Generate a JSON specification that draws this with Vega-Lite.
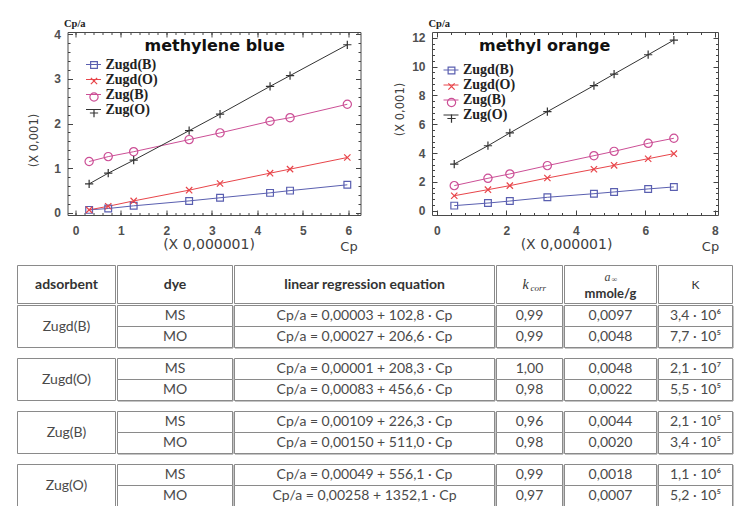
{
  "$schema": "https://vega.github.io/schema/vega-lite/v6.json",
  "padding": {"left": 16.5, "top": 17, "right": 4, "bottom": 2},
  "background": "white",
  "spacing": 10.5,
  "datasets": {
    "mb": [
      {"s": "Zugd(B)", "cp": 0.3, "v": 0.07}, {"s": "Zugd(B)", "cp": 0.72, "v": 0.10}, {"s": "Zugd(B)", "cp": 1.28, "v": 0.16}, {"s": "Zugd(B)", "cp": 2.5, "v": 0.27},
      {"s": "Zugd(B)", "cp": 3.18, "v": 0.34}, {"s": "Zugd(B)", "cp": 4.28, "v": 0.45}, {"s": "Zugd(B)", "cp": 4.72, "v": 0.50}, {"s": "Zugd(B)", "cp": 5.98, "v": 0.63},
      {"s": "Zugd(O)", "cp": 0.3, "v": 0.07}, {"s": "Zugd(O)", "cp": 0.72, "v": 0.15}, {"s": "Zugd(O)", "cp": 1.28, "v": 0.27}, {"s": "Zugd(O)", "cp": 2.5, "v": 0.51},
      {"s": "Zugd(O)", "cp": 3.18, "v": 0.66}, {"s": "Zugd(O)", "cp": 4.28, "v": 0.89}, {"s": "Zugd(O)", "cp": 4.72, "v": 0.98}, {"s": "Zugd(O)", "cp": 5.98, "v": 1.24},
      {"s": "Zug(B)", "cp": 0.3, "v": 1.15}, {"s": "Zug(B)", "cp": 0.72, "v": 1.26}, {"s": "Zug(B)", "cp": 1.28, "v": 1.37}, {"s": "Zug(B)", "cp": 2.5, "v": 1.64},
      {"s": "Zug(B)", "cp": 3.18, "v": 1.79}, {"s": "Zug(B)", "cp": 4.28, "v": 2.05}, {"s": "Zug(B)", "cp": 4.72, "v": 2.13}, {"s": "Zug(B)", "cp": 5.98, "v": 2.43},
      {"s": "Zug(O)", "cp": 0.3, "v": 0.65}, {"s": "Zug(O)", "cp": 0.72, "v": 0.89}, {"s": "Zug(O)", "cp": 1.28, "v": 1.18}, {"s": "Zug(O)", "cp": 2.5, "v": 1.84},
      {"s": "Zug(O)", "cp": 3.18, "v": 2.21}, {"s": "Zug(O)", "cp": 4.28, "v": 2.83}, {"s": "Zug(O)", "cp": 4.72, "v": 3.07}, {"s": "Zug(O)", "cp": 5.98, "v": 3.76}
    ],
    "mo": [
      {"s": "Zugd(B)", "cp": 0.5, "v": 0.35}, {"s": "Zugd(B)", "cp": 1.47, "v": 0.53}, {"s": "Zugd(B)", "cp": 2.1, "v": 0.67}, {"s": "Zugd(B)", "cp": 3.18, "v": 0.93},
      {"s": "Zugd(B)", "cp": 4.52, "v": 1.18}, {"s": "Zugd(B)", "cp": 5.1, "v": 1.30}, {"s": "Zugd(B)", "cp": 6.08, "v": 1.51}, {"s": "Zugd(B)", "cp": 6.82, "v": 1.65},
      {"s": "Zugd(O)", "cp": 0.5, "v": 1.04}, {"s": "Zugd(O)", "cp": 1.47, "v": 1.46}, {"s": "Zugd(O)", "cp": 2.1, "v": 1.74}, {"s": "Zugd(O)", "cp": 3.18, "v": 2.27},
      {"s": "Zugd(O)", "cp": 4.52, "v": 2.88}, {"s": "Zugd(O)", "cp": 5.1, "v": 3.15}, {"s": "Zugd(O)", "cp": 6.08, "v": 3.61}, {"s": "Zugd(O)", "cp": 6.82, "v": 3.96},
      {"s": "Zug(B)", "cp": 0.5, "v": 1.74}, {"s": "Zug(B)", "cp": 1.47, "v": 2.25}, {"s": "Zug(B)", "cp": 2.1, "v": 2.55}, {"s": "Zug(B)", "cp": 3.18, "v": 3.13},
      {"s": "Zug(B)", "cp": 4.52, "v": 3.82}, {"s": "Zug(B)", "cp": 5.1, "v": 4.12}, {"s": "Zug(B)", "cp": 6.08, "v": 4.68}, {"s": "Zug(B)", "cp": 6.82, "v": 5.03},
      {"s": "Zug(O)", "cp": 0.5, "v": 3.24}, {"s": "Zug(O)", "cp": 1.47, "v": 4.51}, {"s": "Zug(O)", "cp": 2.1, "v": 5.40}, {"s": "Zug(O)", "cp": 3.18, "v": 6.88},
      {"s": "Zug(O)", "cp": 4.52, "v": 8.69}, {"s": "Zug(O)", "cp": 5.1, "v": 9.49}, {"s": "Zug(O)", "cp": 6.08, "v": 10.83}, {"s": "Zug(O)", "cp": 6.82, "v": 11.85}
    ],
    "tab": [
      {"ads": "Zugd(B)", "dye": "MS", "eq": "Cp/a = 0,00003 + 102,8 · Cp", "k": "0,99", "a": "0,0097", "K": "3,4 · 10⁶"},
      {"ads": "Zugd(B)", "dye": "MO", "eq": "Cp/a = 0,00027 + 206,6 · Cp", "k": "0,99", "a": "0,0048", "K": "7,7 · 10⁵"},
      {"ads": "Zugd(O)", "dye": "MS", "eq": "Cp/a = 0,00001 + 208,3 · Cp", "k": "1,00", "a": "0,0048", "K": "2,1 · 10⁷"},
      {"ads": "Zugd(O)", "dye": "MO", "eq": "Cp/a = 0,00083 + 456,6 · Cp", "k": "0,98", "a": "0,0022", "K": "5,5 · 10⁵"},
      {"ads": "Zug(B)", "dye": "MS", "eq": "Cp/a = 0,00109 + 226,3 · Cp", "k": "0,96", "a": "0,0044", "K": "2,1 · 10⁵"},
      {"ads": "Zug(B)", "dye": "MO", "eq": "Cp/a = 0,00150 + 511,0 · Cp", "k": "0,98", "a": "0,0020", "K": "3,4 · 10⁵"},
      {"ads": "Zug(O)", "dye": "MS", "eq": "Cp/a = 0,00049 + 556,1 · Cp", "k": "0,99", "a": "0,0018", "K": "1,1 · 10⁶"},
      {"ads": "Zug(O)", "dye": "MO", "eq": "Cp/a = 0,00258 + 1352,1 · Cp", "k": "0,97", "a": "0,0007", "K": "5,2 · 10⁵"}
    ]
  },
  "vconcat": [
    {
      "hconcat": [
        {"width": 9.5, "height": 10, "view": {"fill": "white", "stroke": null}, "data": {"values": [{"t": ""}]}, "mark": {"type": "text"}, "encoding": {"text": {"field": "t"}}},
        {
          "hconcat": [
            {
              "width": 293, "height": 183,
              "view": {"stroke": "#4a4a4a"},
              "data": {"name": "mb"},
              "title": {"text": "methylene blue", "anchor": "start", "frame": "group", "dx": 77, "offset": -36, "baseline": "top", "font": "DejaVu Sans", "fontSize": 16, "fontWeight": "bold", "color": "#111111"},
              "layer": [
                {
                  "mark": {"type": "line", "strokeWidth": 1},
                  "encoding": {
                    "x": {"field": "cp", "type": "quantitative", "scale": {"domain": [-0.176, 6.27], "nice": false, "zero": false},
                          "axis": {"orient": "bottom", "values": [0, 1, 2, 3, 4, 5, 6], "tickSize": -5, "labelPadding": 15, "title": "(X 0,000001)", "titleX": 141, "titleY": 29, "titleAlign": "center", "titleBaseline": "middle", "titleFontSize": 14}},
                    "y": {"field": "v", "type": "quantitative", "scale": {"domain": [-0.045, 4.045], "nice": false, "zero": false},
                          "axis": {"orient": "left", "values": [0, 1, 2, 3, 4], "tickSize": -5, "labelPadding": 12, "title": "(X 0,001)", "titleX": -28, "titleY": 108, "titleAngle": -90, "titleAlign": "center", "titleBaseline": "bottom", "titleFontSize": 11.5}},
                    "color": {"field": "s", "type": "nominal",
                              "scale": {"domain": ["Zugd(B)", "Zugd(O)", "Zug(B)", "Zug(O)"], "range": ["#5a5fb0", "#e8454a", "#cc4f96", "#333333"]},
                              "legend": {"orient": "none", "legendX": 18, "legendY": 24.5, "title": null, "symbolType": "stroke", "symbolSize": 225, "symbolStrokeWidth": 1}}
                  }
                },
                {
                  "mark": {"type": "point", "filled": false, "size": 225, "strokeWidth": 1.2, "opacity": 1},
                  "encoding": {
                    "x": {"field": "cp", "type": "quantitative", "scale": {"domain": [-0.176, 6.27], "nice": false, "zero": false},
                          "axis": {"orient": "bottom", "values": [0, 0.2, 0.4, 0.6, 0.8, 1, 1.2, 1.4, 1.6, 1.8, 2, 2.2, 2.4, 2.6, 2.8, 3, 3.2, 3.4, 3.6, 3.8, 4, 4.2, 4.4, 4.6, 4.8, 5, 5.2, 5.4, 5.6, 5.8, 6, 6.2], "tickSize": -2.5, "labels": false, "title": "Cp", "titleX": 281, "titleY": 31, "titleAlign": "center", "titleBaseline": "middle", "titleFontSize": 13}},
                    "y": {"field": "v", "type": "quantitative", "scale": {"domain": [-0.045, 4.045], "nice": false, "zero": false},
                          "axis": {"orient": "left", "values": [0, 0.2, 0.4, 0.6, 0.8, 1, 1.2, 1.4, 1.6, 1.8, 2, 2.2, 2.4, 2.6, 2.8, 3, 3.2, 3.4, 3.6, 3.8, 4], "tickSize": -2.5, "labels": false, "title": "Cp/a", "titleAngle": 0, "titleX": -4, "titleY": -4, "titleAlign": "left", "titleBaseline": "bottom", "titleFont": "Liberation Serif", "titleFontWeight": "bold", "titleFontSize": 10.5, "titleColor": "#222222"}},
                    "color": {"field": "s", "type": "nominal",
                              "scale": {"domain": ["Zugd(B)", "Zugd(O)", "Zug(B)", "Zug(O)"], "range": ["#5a5fb0", "#e8454a", "#cc4f96", "#333333"]},
                              "legend": {"orient": "none", "legendX": 18, "legendY": 24.5, "title": null, "symbolSize": 225, "symbolStrokeWidth": 1.2, "labelOpacity": 0}},
                    "shape": {"field": "s", "type": "nominal",
                              "scale": {"domain": ["Zugd(B)", "Zugd(O)", "Zug(B)", "Zug(O)"], "range": ["M-0.45,-0.45H0.45V0.45H-0.45Z", "M-0.42,-0.42L0.42,0.42M-0.42,0.42L0.42,-0.42", "M0.55,0A0.55,0.55,0,1,1,-0.55,0A0.55,0.55,0,1,1,0.55,0Z", "M-0.55,0H0.55M0,-0.55V0.55"]},
                              "legend": {"orient": "none", "legendX": 18, "legendY": 24.5, "title": null, "symbolSize": 225, "symbolStrokeWidth": 1.2, "labelOpacity": 0}}
                  }
                },
                {
                  "mark": {"type": "point", "opacity": 0},
                  "encoding": {
                    "x": {"field": "cp", "type": "quantitative", "scale": {"domain": [-0.176, 6.27], "nice": false, "zero": false},
                          "axis": {"orient": "top", "values": [0, 1, 2, 3, 4, 5, 6], "tickSize": -5, "labels": false, "title": null}},
                    "y": {"field": "v", "type": "quantitative", "scale": {"domain": [-0.045, 4.045], "nice": false, "zero": false},
                          "axis": {"orient": "right", "values": [0, 1, 2, 3, 4], "tickSize": -5, "labels": false, "title": null}}
                  }
                },
                {
                  "mark": {"type": "point", "opacity": 0},
                  "encoding": {
                    "x": {"field": "cp", "type": "quantitative", "scale": {"domain": [-0.176, 6.27], "nice": false, "zero": false},
                          "axis": {"orient": "top", "values": [0, 0.2, 0.4, 0.6, 0.8, 1, 1.2, 1.4, 1.6, 1.8, 2, 2.2, 2.4, 2.6, 2.8, 3, 3.2, 3.4, 3.6, 3.8, 4, 4.2, 4.4, 4.6, 4.8, 5, 5.2, 5.4, 5.6, 5.8, 6, 6.2], "tickSize": -2.5, "labels": false, "title": null}},
                    "y": {"field": "v", "type": "quantitative", "scale": {"domain": [-0.045, 4.045], "nice": false, "zero": false},
                          "axis": {"orient": "right", "values": [0, 0.2, 0.4, 0.6, 0.8, 1, 1.2, 1.4, 1.6, 1.8, 2, 2.2, 2.4, 2.6, 2.8, 3, 3.2, 3.4, 3.6, 3.8, 4], "tickSize": -2.5, "labels": false, "title": null}}
                  }
                }
              ],
              "resolve": {"axis": {"x": "independent", "y": "independent"}, "legend": {"color": "independent", "shape": "independent"}}
            },
            {
              "width": 286, "height": 183,
              "view": {"stroke": "#4a4a4a"},
              "data": {"name": "mo"},
              "title": {"text": "methyl orange", "anchor": "start", "frame": "group", "dx": 47, "offset": -36, "baseline": "top", "font": "DejaVu Sans", "fontSize": 16, "fontWeight": "bold", "color": "#111111"},
              "layer": [
                {
                  "mark": {"type": "line", "strokeWidth": 1},
                  "encoding": {
                    "x": {"field": "cp", "type": "quantitative", "scale": {"domain": [-0.14, 8.09], "nice": false, "zero": false},
                          "axis": {"orient": "bottom", "values": [0, 2, 4, 6, 8], "tickSize": -5, "labelPadding": 15, "title": "(X 0,000001)", "titleX": 134, "titleY": 29, "titleAlign": "center", "titleBaseline": "middle", "titleFontSize": 14}},
                    "y": {"field": "v", "type": "quantitative", "scale": {"domain": [-0.3, 12.41], "nice": false, "zero": false},
                          "axis": {"orient": "left", "values": [0, 2, 4, 6, 8, 10, 12], "tickSize": -5, "labelPadding": 12, "title": "(X 0,001)", "titleX": -26.5, "titleY": 77, "titleAngle": -90, "titleAlign": "center", "titleBaseline": "bottom", "titleFontSize": 11.5}},
                    "color": {"field": "s", "type": "nominal",
                              "scale": {"domain": ["Zugd(B)", "Zugd(O)", "Zug(B)", "Zug(O)"], "range": ["#5a5fb0", "#e8454a", "#cc4f96", "#333333"]},
                              "legend": {"orient": "none", "legendX": 11, "legendY": 30, "title": null, "symbolType": "stroke", "symbolSize": 225, "symbolStrokeWidth": 1}}
                  }
                },
                {
                  "mark": {"type": "point", "filled": false, "size": 225, "strokeWidth": 1.2, "opacity": 1},
                  "encoding": {
                    "x": {"field": "cp", "type": "quantitative", "scale": {"domain": [-0.14, 8.09], "nice": false, "zero": false},
                          "axis": {"orient": "bottom", "values": [0, 0.4, 0.8, 1.2, 1.6, 2, 2.4, 2.8, 3.2, 3.6, 4, 4.4, 4.8, 5.2, 5.6, 6, 6.4, 6.8, 7.2, 7.6, 8], "tickSize": -2.5, "labels": false, "title": "Cp", "titleX": 278, "titleY": 31, "titleAlign": "center", "titleBaseline": "middle", "titleFontSize": 13}},
                    "y": {"field": "v", "type": "quantitative", "scale": {"domain": [-0.3, 12.41], "nice": false, "zero": false},
                          "axis": {"orient": "left", "values": [0, 0.4, 0.8, 1.2, 1.6, 2, 2.4, 2.8, 3.2, 3.6, 4, 4.4, 4.8, 5.2, 5.6, 6, 6.4, 6.8, 7.2, 7.6, 8, 8.4, 8.8, 9.2, 9.6, 10, 10.4, 10.8, 11.2, 11.6, 12], "tickSize": -2.5, "labels": false, "title": "Cp/a", "titleAngle": 0, "titleX": -4, "titleY": -4, "titleAlign": "left", "titleBaseline": "bottom", "titleFont": "Liberation Serif", "titleFontWeight": "bold", "titleFontSize": 10.5, "titleColor": "#222222"}},
                    "color": {"field": "s", "type": "nominal",
                              "scale": {"domain": ["Zugd(B)", "Zugd(O)", "Zug(B)", "Zug(O)"], "range": ["#5a5fb0", "#e8454a", "#cc4f96", "#333333"]},
                              "legend": {"orient": "none", "legendX": 11, "legendY": 30, "title": null, "symbolSize": 225, "symbolStrokeWidth": 1.2, "labelOpacity": 0}},
                    "shape": {"field": "s", "type": "nominal",
                              "scale": {"domain": ["Zugd(B)", "Zugd(O)", "Zug(B)", "Zug(O)"], "range": ["M-0.45,-0.45H0.45V0.45H-0.45Z", "M-0.42,-0.42L0.42,0.42M-0.42,0.42L0.42,-0.42", "M0.55,0A0.55,0.55,0,1,1,-0.55,0A0.55,0.55,0,1,1,0.55,0Z", "M-0.55,0H0.55M0,-0.55V0.55"]},
                              "legend": {"orient": "none", "legendX": 11, "legendY": 30, "title": null, "symbolSize": 225, "symbolStrokeWidth": 1.2, "labelOpacity": 0}}
                  }
                },
                {
                  "mark": {"type": "point", "opacity": 0},
                  "encoding": {
                    "x": {"field": "cp", "type": "quantitative", "scale": {"domain": [-0.14, 8.09], "nice": false, "zero": false},
                          "axis": {"orient": "top", "values": [0, 2, 4, 6, 8], "tickSize": -5, "labels": false, "title": null}},
                    "y": {"field": "v", "type": "quantitative", "scale": {"domain": [-0.3, 12.41], "nice": false, "zero": false},
                          "axis": {"orient": "right", "values": [0, 2, 4, 6, 8, 10, 12], "tickSize": -5, "labels": false, "title": null}}
                  }
                },
                {
                  "mark": {"type": "point", "opacity": 0},
                  "encoding": {
                    "x": {"field": "cp", "type": "quantitative", "scale": {"domain": [-0.14, 8.09], "nice": false, "zero": false},
                          "axis": {"orient": "top", "values": [0, 0.4, 0.8, 1.2, 1.6, 2, 2.4, 2.8, 3.2, 3.6, 4, 4.4, 4.8, 5.2, 5.6, 6, 6.4, 6.8, 7.2, 7.6, 8], "tickSize": -2.5, "labels": false, "title": null}},
                    "y": {"field": "v", "type": "quantitative", "scale": {"domain": [-0.3, 12.41], "nice": false, "zero": false},
                          "axis": {"orient": "right", "values": [0, 0.4, 0.8, 1.2, 1.6, 2, 2.4, 2.8, 3.2, 3.6, 4, 4.4, 4.8, 5.2, 5.6, 6, 6.4, 6.8, 7.2, 7.6, 8, 8.4, 8.8, 9.2, 9.6, 10, 10.4, 10.8, 11.2, 11.6, 12], "tickSize": -2.5, "labels": false, "title": null}}
                  }
                }
              ],
              "resolve": {"axis": {"x": "independent", "y": "independent"}, "legend": {"color": "independent", "shape": "independent"}}
            }
          ],
          "spacing": 32.5
        }
      ],
      "spacing": 0
    },
    {
      "vconcat": [
        {
          "hconcat": [
            {"width": 98, "height": 38, "data": {"values": [{"h": "adsorbent"}]},
             "layer": [
               {"mark": {"type": "rect", "fill": "white", "stroke": "#8a8a8a", "strokeWidth": 1}, "encoding": {}},
               {"mark": {"type": "text", "fontWeight": "bold", "fontSize": 14, "color": "#333333"}, "encoding": {"text": {"field": "h"}}}
             ]},
            {"width": 115, "height": 38, "data": {"values": [{"h": "dye"}]},
             "layer": [
               {"mark": {"type": "rect", "fill": "white", "stroke": "#8a8a8a", "strokeWidth": 1}, "encoding": {}},
               {"mark": {"type": "text", "fontWeight": "bold", "fontSize": 14, "color": "#333333"}, "encoding": {"text": {"field": "h"}}}
             ]},
            {"width": 260, "height": 38, "data": {"values": [{"h": "linear regression equation"}]},
             "layer": [
               {"mark": {"type": "rect", "fill": "white", "stroke": "#8a8a8a", "strokeWidth": 1}, "encoding": {}},
               {"mark": {"type": "text", "fontWeight": "bold", "fontSize": 14, "color": "#333333"}, "encoding": {"text": {"field": "h"}}}
             ]},
            {"width": 66, "height": 38, "data": {"values": [{"k": "k", "c": "corr"}]},
             "layer": [
               {"mark": {"type": "rect", "fill": "white", "stroke": "#8a8a8a", "strokeWidth": 1}, "encoding": {}},
               {"mark": {"type": "text", "font": "Liberation Serif", "fontStyle": "italic", "fontSize": 14, "dx": -4, "color": "#333333"}, "encoding": {"text": {"field": "k"}}},
               {"mark": {"type": "text", "font": "Liberation Serif", "fontStyle": "italic", "fontSize": 9, "align": "left", "dx": 1, "dy": 3, "color": "#333333"}, "encoding": {"text": {"field": "c"}}}
             ]},
            {"width": 92, "height": 38, "data": {"values": [{"a": "a", "i": "∞", "u": "mmole/g"}]},
             "layer": [
               {"mark": {"type": "rect", "fill": "white", "stroke": "#8a8a8a", "strokeWidth": 1}, "encoding": {}},
               {"mark": {"type": "text", "font": "Liberation Serif", "fontStyle": "italic", "fontSize": 12, "dx": -3, "dy": -8, "color": "#444444"}, "encoding": {"text": {"field": "a"}}},
               {"mark": {"type": "text", "font": "Liberation Serif", "fontSize": 8, "align": "left", "dx": 1, "dy": -5, "color": "#444444"}, "encoding": {"text": {"field": "i"}}},
               {"mark": {"type": "text", "fontWeight": "bold", "fontSize": 13, "dy": 9, "color": "#333333"}, "encoding": {"text": {"field": "u"}}}
             ]},
            {"width": 74, "height": 38, "data": {"values": [{"h": "K"}]},
             "layer": [
               {"mark": {"type": "rect", "fill": "white", "stroke": "#8a8a8a", "strokeWidth": 1}, "encoding": {}},
               {"mark": {"type": "text", "fontSize": 12, "color": "#333333"}, "encoding": {"text": {"field": "h"}}}
             ]}
          ],
          "spacing": 0
        },
        {
          "hconcat": [
            {"data": {"name": "tab"}, "transform": [{"filter": "datum.dye == 'MS'"}],
             "facet": {"row": {"field": "ads", "type": "nominal", "sort": ["Zugd(B)", "Zugd(O)", "Zug(B)", "Zug(O)"], "header": null}},
             "spacing": 9,
             "spec": {"width": 98, "height": 42,
               "layer": [
                 {"mark": {"type": "rect", "fill": "white", "stroke": "#8a8a8a", "strokeWidth": 1}, "encoding": {}},
                 {"mark": {"type": "text"}, "encoding": {"text": {"field": "ads"}}}
               ]}},
            {"data": {"name": "tab"},
             "facet": {"row": {"field": "ads", "type": "nominal", "sort": ["Zugd(B)", "Zugd(O)", "Zug(B)", "Zug(O)"], "header": null}},
             "spacing": 9,
             "spec": {"width": 115, "height": 42,
               "encoding": {"y": {"field": "dye", "type": "nominal", "sort": ["MS", "MO"], "scale": {"paddingInner": 0, "paddingOuter": 0}, "axis": null}},
               "layer": [
                 {"mark": {"type": "rect", "fill": "white", "stroke": "#8a8a8a", "strokeWidth": 1}},
                 {"mark": {"type": "text"}, "encoding": {"text": {"field": "dye"}}}
               ]}},
            {"data": {"name": "tab"},
             "facet": {"row": {"field": "ads", "type": "nominal", "sort": ["Zugd(B)", "Zugd(O)", "Zug(B)", "Zug(O)"], "header": null}},
             "spacing": 9,
             "spec": {"width": 260, "height": 42,
               "encoding": {"y": {"field": "dye", "type": "nominal", "sort": ["MS", "MO"], "scale": {"paddingInner": 0, "paddingOuter": 0}, "axis": null}},
               "layer": [
                 {"mark": {"type": "rect", "fill": "white", "stroke": "#8a8a8a", "strokeWidth": 1}},
                 {"mark": {"type": "text"}, "encoding": {"text": {"field": "eq"}}}
               ]}},
            {"data": {"name": "tab"},
             "facet": {"row": {"field": "ads", "type": "nominal", "sort": ["Zugd(B)", "Zugd(O)", "Zug(B)", "Zug(O)"], "header": null}},
             "spacing": 9,
             "spec": {"width": 66, "height": 42,
               "encoding": {"y": {"field": "dye", "type": "nominal", "sort": ["MS", "MO"], "scale": {"paddingInner": 0, "paddingOuter": 0}, "axis": null}},
               "layer": [
                 {"mark": {"type": "rect", "fill": "white", "stroke": "#8a8a8a", "strokeWidth": 1}},
                 {"mark": {"type": "text"}, "encoding": {"text": {"field": "k"}}}
               ]}},
            {"data": {"name": "tab"},
             "facet": {"row": {"field": "ads", "type": "nominal", "sort": ["Zugd(B)", "Zugd(O)", "Zug(B)", "Zug(O)"], "header": null}},
             "spacing": 9,
             "spec": {"width": 92, "height": 42,
               "encoding": {"y": {"field": "dye", "type": "nominal", "sort": ["MS", "MO"], "scale": {"paddingInner": 0, "paddingOuter": 0}, "axis": null}},
               "layer": [
                 {"mark": {"type": "rect", "fill": "white", "stroke": "#8a8a8a", "strokeWidth": 1}},
                 {"mark": {"type": "text"}, "encoding": {"text": {"field": "a"}}}
               ]}},
            {"data": {"name": "tab"},
             "facet": {"row": {"field": "ads", "type": "nominal", "sort": ["Zugd(B)", "Zugd(O)", "Zug(B)", "Zug(O)"], "header": null}},
             "spacing": 9,
             "spec": {"width": 74, "height": 42,
               "encoding": {"y": {"field": "dye", "type": "nominal", "sort": ["MS", "MO"], "scale": {"paddingInner": 0, "paddingOuter": 0}, "axis": null}},
               "layer": [
                 {"mark": {"type": "rect", "fill": "white", "stroke": "#8a8a8a", "strokeWidth": 1}},
                 {"mark": {"type": "text"}, "encoding": {"text": {"field": "K"}}}
               ]}}
          ],
          "spacing": 0
        }
      ],
      "spacing": 0
    }
  ],
  "config": {
    "view": {"stroke": "#8a8a8a", "strokeWidth": 1},
    "axis": {"domain": false, "grid": false, "labelFlush": false, "labelOverlap": false, "tickColor": "#444444", "tickWidth": 1, "labelFont": "Liberation Sans", "labelFontWeight": "bold", "labelFontSize": 12, "labelColor": "#505050", "titleFont": "DejaVu Sans", "titleFontWeight": "normal", "titleFontSize": 13, "titleColor": "#404040"},
    "legend": {"labelFont": "Liberation Serif", "labelFontWeight": "bold", "labelFontSize": 14, "labelColor": "#222222", "padding": 0, "rowPadding": 0, "labelOffset": 4},
    "text": {"font": "Lato", "fontSize": 14, "color": "#4a4a4a"}
  }
}
